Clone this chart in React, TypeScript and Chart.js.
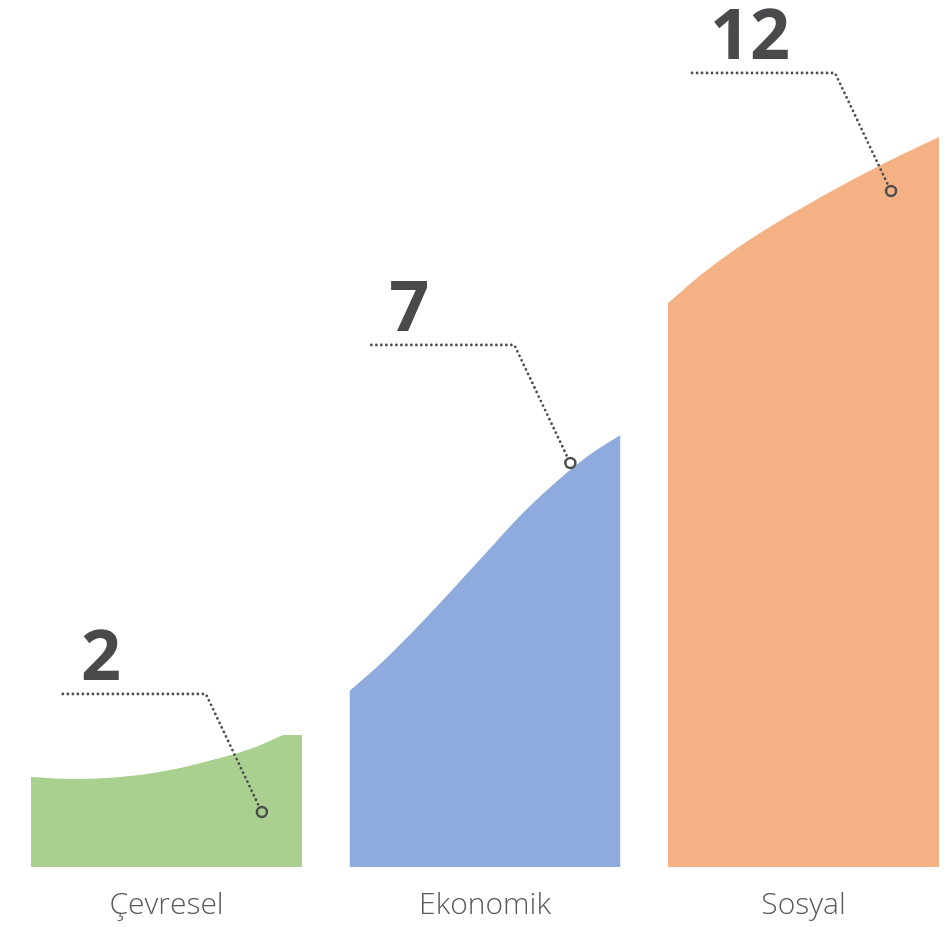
import React, { useEffect, useRef } from "react";
import { Chart, registerables } from "chart.js";

Chart.register(...registerables);

// Categories and headline values
const categories = ["Çevresel", "Ekonomik", "Sosyal"];
const values = [2, 7, 12];

// Curved top of each column: position across the column (0..1) and height
const cevreselT = [0, 0.144, 0.328, 0.513, 0.697, 0.819, 0.93];
const cevreselH = [90, 88, 90, 97, 109, 119, 132];
const cevreselShelfT = [0.93, 1];
const cevreselShelfH = [132, 132];
const ekonomikT = [0, 0.125, 0.25, 0.375, 0.5, 0.625, 0.75, 0.875, 1];
const ekonomikH = [176, 206, 240, 276, 313, 350, 382, 410, 432];
const sosyalT = [0, 0.125, 0.25, 0.375, 0.5, 0.625, 0.75, 0.875, 1];
const sosyalH = [564, 593, 618, 640, 660, 679, 697, 714, 730];

// Marker points (position across column, height)
const markerT = [0.852, 0.815, 0.823];
const markerH = [55, 404, 676];

const colors = ["#a9d08e", "#8faadc", "#f4b183"];
const HALF = 0.4254; // half column width in category units

function toPoints(i: number, ts: number[], hs: number[]) {
  return ts.map((t, k) => ({ x: i - HALF + t * 2 * HALF, y: hs[k] }));
}

const leaderPlugin = {
  id: "leaders",
  afterDatasetsDraw(chart: any) {
    const idx = chart.data.datasets.findIndex((d: any) => d.label === "markers");
    const meta = chart.getDatasetMeta(idx);
    const ctx = chart.ctx;
    ctx.save();
    meta.data.forEach((pt: any, i: number) => {
      const mx = pt.x;
      const my = pt.y;
      const ly = my - 118;
      const ex = mx - 56;
      const sx = mx - 199;
      ctx.strokeStyle = "#4d4d4f";
      ctx.lineWidth = 2.8;
      ctx.lineCap = "round";
      ctx.setLineDash([0, 5]);
      ctx.beginPath();
      ctx.moveTo(sx, ly);
      ctx.lineTo(ex, ly);
      ctx.lineTo(mx - 3.5, my - 7);
      ctx.stroke();
      ctx.setLineDash([]);
      ctx.fillStyle = "#4a4a4c";
      ctx.font = "bold 70px 'Open Sans'";
      ctx.textAlign = "left";
      ctx.textBaseline = "alphabetic";
      ctx.fillText(String(values[i]), sx + 18, ly - 14);
    });
    ctx.restore();
  },
};

export default function App() {
  const ref = useRef<HTMLCanvasElement>(null);
  useEffect(() => {
    document.body.style.margin = "0";
    const series = [
      { pts: toPoints(0, cevreselT, cevreselH), c: colors[0] },
      { pts: toPoints(0, cevreselShelfT, cevreselShelfH), c: colors[0] },
      { pts: toPoints(1, ekonomikT, ekonomikH), c: colors[1] },
      { pts: toPoints(2, sosyalT, sosyalH), c: colors[2] },
    ];
    const chart = new Chart(ref.current!, {
      type: "line",
      data: {
        datasets: [
          ...series.map((s) => ({
            data: s.pts,
            borderWidth: 0,
            borderColor: s.c,
            backgroundColor: s.c,
            fill: "origin",
            pointRadius: 0,
            order: 2,
            cubicInterpolationMode: "monotone" as const,
          })),
          {
            label: "markers",
            type: "scatter" as const,
            data: markerT.map((t, i) => ({ x: i - HALF + t * 2 * HALF, y: markerH[i] })),
            pointRadius: 5,
            pointBorderWidth: 2.5,
            pointBorderColor: "#4d4d4f",
            pointBackgroundColor: "rgba(0,0,0,0)",
            showLine: false,
            order: 0,
          },
        ],
      },
      options: {
        animation: false,
        responsive: true,
        maintainAspectRatio: false,
        layout: { autoPadding: false, padding: { left: 0, right: 0, top: 0, bottom: -16 } },
        plugins: { legend: { display: false }, tooltip: { enabled: false } },
        scales: {
          x: {
            type: "linear",
            min: -0.5228,
            max: 2.4568,
            grid: { display: false, drawTicks: false },
            border: { display: false },
            afterBuildTicks: (scale: any) => {
              scale.ticks = categories.map((_, i) => ({ value: i }));
            },
            ticks: {
              autoSkip: false,
              maxRotation: 0,
              padding: 20,
              color: "#595959",
              font: { family: "'Open Sans'", size: 30, weight: 300 as any },
              callback: (v: any) => categories[v] ?? "",
            },
          },
          y: { type: "linear", min: 0, max: 867, display: false },
        },
      },
      plugins: [leaderPlugin],
    });
    return () => chart.destroy();
  }, []);
  return (
    <div style={{ width: 949, height: 927, position: "relative" }}>
      <canvas ref={ref} />
    </div>
  );
}
